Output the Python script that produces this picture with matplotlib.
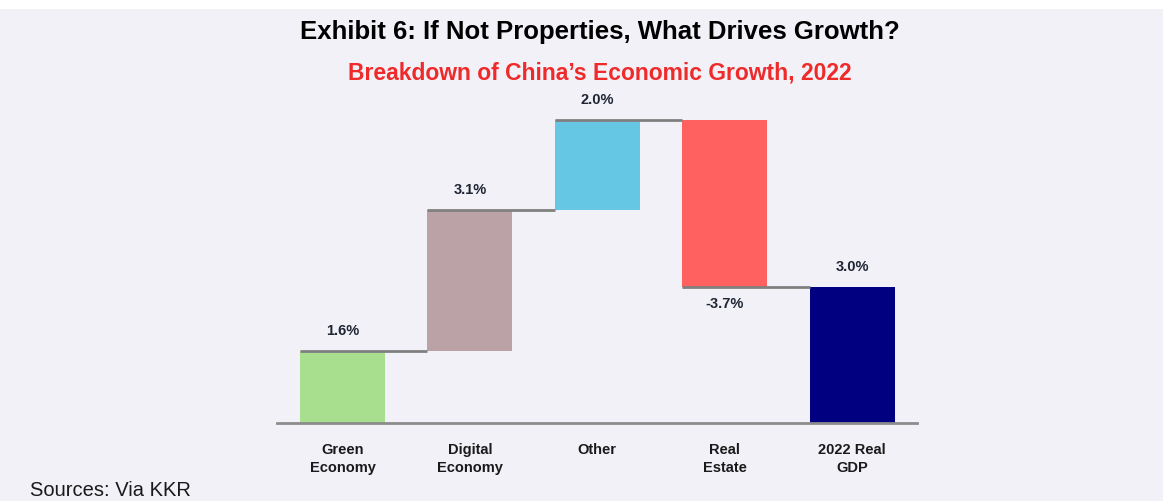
import matplotlib
matplotlib.use("Agg")
import matplotlib.pyplot as plt
import numpy as np

categories = ["Green\nEconomy", "Digital\nEconomy", "Other", "Real\nEstate", "2022 Real\nGDP"]
contributions = [1.6, 3.1, 2.0, -3.7]
total_value = 3.0
value_labels = ["1.6%", "3.1%", "2.0%", "-3.7%", "3.0%"]
bar_colors = ["#A8DF8E", "#BBA2A7", "#66C7E5", "#FF6060", "#000080"]

BG = "#F2F1F8"
plt.rcParams["font.family"] = ["Liberation Sans", "DejaVu Sans"]

fig = plt.figure(figsize=(11.63, 5.02), dpi=100)
fig.patch.set_facecolor(BG)
# thin white strip along the top edge
fig.patches.append(plt.Rectangle((0, 1 - 10 / 502), 1, 10 / 502, transform=fig.transFigure,
                                 facecolor="white", edgecolor="none", zorder=0))

ax = fig.add_axes([277 / 1163, 78 / 502, 640 / 1163, 324 / 502])
ax.set_facecolor(BG)

x = np.arange(len(categories))
width = 0.667

# waterfall geometry
starts = np.concatenate([[0], np.cumsum(contributions)[:-1]])
ends = np.cumsum(contributions)
bottoms = list(np.minimum(starts, ends)) + [0]
heights = list(np.abs(contributions)) + [total_value]

ax.bar(x, heights, bottom=bottoms, width=width, color=bar_colors, zorder=2)

# connector lines between consecutive levels
for i, level in enumerate(ends):
    ax.plot([x[i] - width / 2, x[i + 1] - width / 2], [level, level],
            color="#808080", lw=2, zorder=3, solid_capstyle="butt")

# value labels
for i in range(len(categories)):
    if i < len(contributions):
        val = contributions[i]
        top = ends[i]
    else:
        val = total_value
        top = total_value
    if val >= 0:
        ax.annotate(value_labels[i], (x[i], top), xytext=(0, 10), textcoords="offset points",
                    ha="center", va="bottom", fontsize=10.5, fontweight="bold", color="#1F2533")
    else:
        ax.annotate(value_labels[i], (x[i], top), xytext=(0, -6), textcoords="offset points",
                    ha="center", va="top", fontsize=10.5, fontweight="bold", color="#1F2533")

ax.set_xlim(-0.514, 4.51)
ax.set_ylim(0, 7.16)
ax.set_xticks(x)
ax.set_xticklabels(categories, fontsize=10.5, fontweight="bold", color="#1a1a1a", linespacing=1.3)
ax.tick_params(axis="x", length=0, pad=14)
ax.set_yticks([])
for side in ["top", "right", "left"]:
    ax.spines[side].set_visible(False)
ax.spines["bottom"].set_color("#8C8C8C")
ax.spines["bottom"].set_linewidth(2)

fig.text(600 / 1163, 1 - 32 / 502, "Exhibit 6: If Not Properties, What Drives Growth?",
         ha="center", va="center", fontsize=18.5, fontweight="bold", color="#000000")
fig.text(600 / 1163, 1 - 73 / 502, "Breakdown of China\u2019s Economic Growth, 2022",
         ha="center", va="center", fontsize=16.5, fontweight="bold", color="#EE2A2A")
fig.text(30 / 1163, 1 - 491 / 502, "Sources: Via KKR", ha="left", va="center",
         fontsize=14.5, color="#1a1a1a")

fig.savefig("out.png", dpi=100, facecolor=fig.get_facecolor())
